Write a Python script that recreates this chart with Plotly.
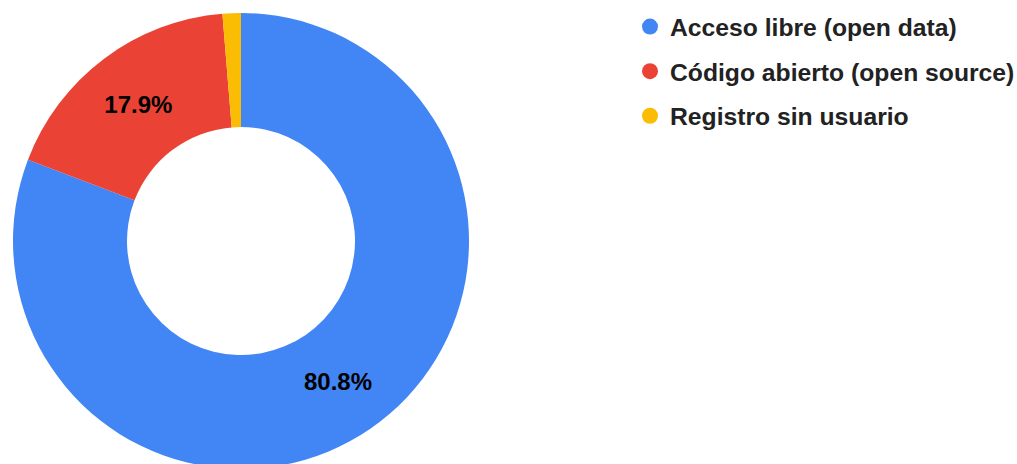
import plotly.graph_objects as go

categories = ["Acceso libre (open data)", "Código abierto (open source)", "Registro sin usuario"]
values = [80.8, 17.9, 1.3]
colors = ["#4285F4", "#EA4335", "#FBBC04"]
show_label = [True, True, False]

W, H = 1017, 470

fig = go.Figure()
fig.add_trace(go.Pie(
    labels=categories, values=values, hole=0.5, sort=False,
    direction="clockwise", rotation=0,
    marker=dict(colors=colors, line=dict(width=0)),
    texttemplate=["%{percent:.1%}" if s else "" for s in show_label],
    textposition="inside", insidetextorientation="horizontal",
    textfont=dict(family="Liberation Sans, Arial", size=24, color="#000000", weight="bold"),
    showlegend=False,
    domain=dict(x=[13 / W, 469 / W], y=[(H - 469) / H, (H - 13) / H]),
))
for name, col in zip(categories, colors):
    fig.add_trace(go.Scatter(
        x=[None], y=[None], mode="markers", name=name, legendgroup=name,
        marker=dict(color=col, size=18, symbol="circle"), showlegend=True,
    ))

fig.update_layout(
    width=W, height=H,
    margin=dict(l=0, r=0, t=0, b=0, autoexpand=False),
    paper_bgcolor="white", plot_bgcolor="white",
    xaxis=dict(visible=False), yaxis=dict(visible=False),
    legend=dict(
        x=630 / W, xanchor="left", y=1 - 4 / H, yanchor="top",
        font=dict(family="Liberation Sans, Arial", size=24.7, color="#222222", weight="bold"),
        tracegroupgap=9.5, itemsizing="trace",
        bgcolor="rgba(0,0,0,0)",
    ),
)

fig.write_html(
    "out.html",
    config={"displayModeBar": False},
    post_script="document.body.style.margin='0';document.body.style.overflow='hidden';document.documentElement.style.overflow='hidden';",
)
